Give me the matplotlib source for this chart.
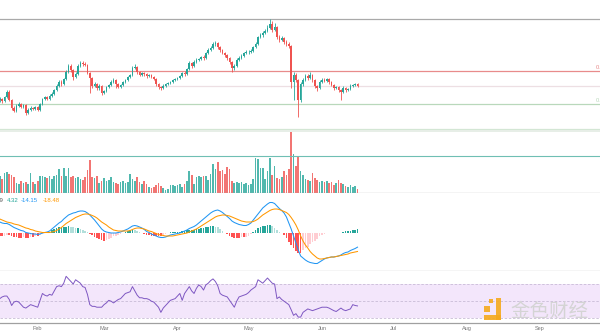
import numpy as np
import pandas as pd
import matplotlib
matplotlib.use("Agg")
import matplotlib.pyplot as plt
from matplotlib.patches import Rectangle

# ---------------------------------------------------------------
# data (daily candles, 2021-01-16 .. 2021-06-16)
# ---------------------------------------------------------------
start_date = "2021-01-16"
first_open = 500

close = [505, 495, 515, 540, 500, 460, 445, 470, 480, 465,
         475, 435, 450, 460, 455, 465, 450, 480, 505, 515,
         505, 520, 530, 550, 570, 590, 580, 605, 640, 670,
         650, 615, 630, 670, 685, 680, 675, 635, 610, 570,
         580, 560, 570, 535, 545, 565, 575, 590, 600, 580,
         565, 575, 590, 600, 615, 625, 660, 665, 640, 625,
         635, 630, 620, 625, 615, 605, 580, 565, 560, 570,
         580, 585, 590, 600, 605, 610, 620, 635, 630, 655,
         685, 670, 690, 700, 705, 715, 710, 735, 750, 760,
         780, 785, 765, 750, 735, 725, 710, 690, 660, 670,
         700, 710, 720, 735, 740, 740, 745, 765, 780, 815,
         825, 835, 845, 860, 880, 850, 865, 815, 800, 810,
         790, 780, 770, 590, 625, 600, 500, 580, 600, 620,
         610, 625, 600, 570, 560, 590, 600, 595, 605, 590,
         575, 560, 565, 550, 540, 560, 550, 555, 570, 575,
         580, 570]

high = [515, 512, 522, 550, 548, 505, 468, 478, 488, 485,
        482, 480, 458, 468, 466, 472, 470, 485, 512, 522,
        520, 528, 538, 556, 578, 598, 600, 612, 648, 678,
        680, 655, 640, 680, 695, 695, 690, 680, 640, 615,
        590, 585, 578, 575, 552, 572, 582, 598, 608, 605,
        585, 582, 596, 606, 622, 632, 670, 680, 670, 645,
        642, 640, 636, 632, 630, 620, 610, 585, 572, 578,
        586, 592, 596, 606, 612, 616, 626, 642, 645, 662,
        695, 690, 698, 708, 712, 722, 725, 742, 758, 770,
        788, 795, 792, 770, 755, 740, 730, 715, 695, 678,
        708, 718, 728, 742, 748, 750, 755, 772, 790, 822,
        835, 845, 855, 875, 905, 895, 885, 870, 825, 820,
        815, 798, 790, 775, 640, 635, 605, 590, 610, 632,
        630, 638, 630, 605, 575, 598, 608, 608, 612, 610,
        595, 580, 572, 570, 555, 568, 565, 562, 578, 582,
        586, 584]

low = [490, 485, 490, 510, 495, 452, 438, 440, 465, 458,
       460, 425, 430, 445, 448, 450, 445, 447, 475, 500,
       498, 500, 515, 525, 545, 565, 572, 575, 600, 635,
       640, 600, 608, 625, 665, 672, 668, 628, 535, 560,
       565, 552, 550, 525, 528, 540, 560, 570, 585, 560,
       558, 560, 570, 585, 595, 610, 620, 655, 632, 618,
       620, 622, 612, 615, 608, 598, 572, 555, 550, 555,
       565, 575, 580, 585, 595, 600, 605, 615, 622, 625,
       650, 662, 665, 685, 695, 700, 702, 705, 730, 745,
       755, 772, 755, 740, 728, 715, 700, 680, 640, 650,
       665, 695, 705, 715, 728, 732, 735, 740, 760, 775,
       808, 815, 828, 840, 855, 840, 845, 805, 790, 795,
       780, 770, 760, 560, 500, 590, 415, 490, 570, 595,
       600, 605, 590, 560, 545, 555, 585, 588, 590, 582,
       568, 552, 555, 540, 500, 535, 542, 545, 550, 565,
       570, 565]

volume = [170, 140, 200, 210, 190, 180, 160, 100, 90, 120,
          100, 110, 90, 200, 110, 90, 120, 170, 170, 160,
          150, 170, 140, 170, 180, 240, 170, 250, 170, 250,
          160, 170, 150, 160, 140, 130, 160, 230, 330, 160,
          150, 170, 100, 120, 150, 120, 130, 160, 110, 100,
          90, 110, 120, 100, 110, 190, 140, 120, 160, 110,
          90, 120, 90, 60, 50, 60, 80, 100, 70, 50,
          30, 40, 80, 80, 70, 80, 90, 60, 90, 120,
          220, 180, 90, 160, 170, 160, 170, 170, 130, 190,
          290, 240, 310, 220, 230, 190, 260, 240, 120, 100,
          110, 100, 110, 90, 100, 80, 90, 140, 350, 340,
          250, 250, 140, 220, 350, 180, 270, 150, 140, 160,
          220, 180, 240, 610, 390, 270, 360, 220, 180, 140,
          130, 120, 200, 150, 130, 110, 120, 110, 120, 100,
          110, 80, 100, 130, 100, 90, 70, 60, 80, 60,
          70, 40]

dif = [11, 10, 9.5, 9.5, 8.5, 7, 5.5, 4.5, 3.5, 2.5,
       2, 0.5, 0, -0.5, -1, -1, -1.5, -1, 0, 0.5,
       1, 2, 4, 6, 8, 10, 11.5, 14, 16, 18,
       19, 20, 20.5, 21.5, 22, 22, 21.5, 20, 18, 15.5,
       13, 10, 7, 4, 2, 1, 0.5, 0, 0, 0,
       0.5, 1, 2, 3, 4, 5.5, 7, 7.5, 7, 6,
       5, 3.5, 1.5, 0.5, -1, -2, -3, -4, -4.5, -4.5,
       -4, -3, -2, -1.5, -1, -0.5, 0, 1, 2, 3,
       4.5, 5.5, 6.5, 8, 10, 12, 14, 16, 18, 20,
       21.5, 22.5, 23, 22, 20.5, 18.5, 16.5, 14.5, 12, 10.5,
       9.5, 8.5, 8, 7.5, 7.5, 8.5, 10, 13, 16, 19,
       22, 25, 27, 29, 30.5, 30.5, 29.5, 27, 24.5, 22.5,
       20, 16, 10, 4, -3, -10, -17, -23, -25, -27,
       -28.5, -29.5, -30, -30.5, -30.5, -29, -27.5, -26, -25, -24.5,
       -24, -24, -23.5, -23, -22, -20.5, -19.5, -19, -17.5, -16.5,
       -15.5, -14.15]

dea = [14, 13, 12, 11, 10.5, 10, 9, 8.5, 8, 7,
       6, 5, 4.5, 3.5, 3, 2, 1.5, 1, 0.5, 0.5,
       0.5, 0.5, 1, 1.5, 2.5, 4, 5.5, 7.5, 9.5, 11,
       12.5, 14, 15.5, 16.5, 17.5, 18.5, 19, 19, 18.5, 17.5,
       16.5, 15, 13, 11, 9.5, 8, 6, 4.5, 3, 2.5,
       2, 2, 2, 2, 2, 2.5, 3.5, 4.5, 5, 5,
       4.5, 4, 3, 2, 1.5, 0.5, -0.5, -1.5, -2, -2.5,
       -3, -3, -3, -3, -2.5, -2, -1.5, -1, -0.5, 0,
       1, 2, 3, 4, 5.5, 7, 8.5, 10, 11.5, 13,
       14.5, 16, 17, 17.5, 18, 18, 17.5, 17, 16, 15,
       14, 13, 12, 11.5, 11, 11, 11, 11.5, 12.5, 14,
       16, 18, 19.5, 21, 22.5, 23.5, 24, 24, 23.5, 22.5,
       21.5, 20.5, 18.5, 15.5, 12, 8, 3, -3, -8, -12,
       -15, -18.5, -21, -23, -25, -26, -26, -25.5, -25, -24.5,
       -24, -24, -23.5, -23, -22.5, -22, -21.5, -21, -20, -19.5,
       -19, -18.48]

rsi = [53, 55, 56, 56, 52, 45, 49, 50, 49, 46,
       43, 42, 44, 46, 45, 44, 43, 51, 59, 57,
       56, 58, 57, 62, 67, 68, 67, 71, 79, 76,
       73, 70, 75, 73, 71, 67, 66, 58, 46, 44,
       44, 43, 43, 43, 46, 48, 51, 50, 48, 50,
       52, 53, 56, 59, 60, 61, 67, 62, 57, 54,
       54, 53, 53, 52, 50, 49, 46, 43, 37, 42,
       45, 48, 51, 52, 53, 56, 59, 51, 59, 63,
       67, 62, 59, 65, 69, 67, 63, 69, 71, 74,
       76, 73, 68, 59, 57, 56, 55, 51, 47, 43,
       50, 55, 56, 57, 58, 60, 63, 65, 67, 75,
       73, 71, 74, 77, 74, 71, 70, 53, 55, 52,
       50, 48, 46, 40, 33.5, 35.5, 31.5, 31.5, 37, 39,
       41, 40, 39, 40, 41, 42, 43, 43, 43, 42,
       40.5, 39, 38, 40, 42, 40, 39, 40, 41, 46,
       45, 44.5]

fib_levels = [905, 645, 570, 480, 355]
fib_names = ["0", "0.382", "0.5", "0.618", "0.786"]
fib_colors = ["#a9a9a9", "#e88b8b", "#eddfe3", "#b9d8bb", "#d3e6d4"]
labelled_fibs = ["0.382", "0.618"]

volume_line = 370
macd_values = ["4.32", "-14.15", "-18.48"]
month_labels = ["Feb", "Mar", "Apr", "May", "Jun", "Jul", "Aug", "Sep"]
month_starts = ["2021-02-01", "2021-03-01", "2021-04-01", "2021-05-01",
                "2021-06-01", "2021-07-01", "2021-08-01", "2021-09-01"]

TEAL = "#26a69a"
RED = "#ef5350"
W, H = 600, 332

close = np.array(close, dtype=float)
high = np.array(high, dtype=float)
low = np.array(low, dtype=float)
opens = np.r_[first_open, close[:-1]]
x = np.arange(len(close))
up = close >= opens
cols = np.where(up, TEAL, RED)

t0 = pd.Timestamp(start_date)
month_pos = [(pd.Timestamp(d) - t0).days for d in month_starts]
xlim = (0.09, 253.36)

fig = plt.figure(figsize=(W / 100, H / 100), dpi=100)
fig.patch.set_facecolor("white")


def panel(top, bottom):
    ax = fig.add_axes([0, 1 - bottom / H, 1, (bottom - top) / H])
    ax.set_xlim(*xlim)
    for s in ax.spines.values():
        s.set_visible(False)
    ax.set_xticks([])
    ax.set_yticks([])
    ax.patch.set_alpha(0)
    return ax


def fx(px):
    return px / W


def fy(py):
    return 1 - py / H


# ---------------- price ----------------
ax_p = panel(0, 130)
ax_p.set_ylim(350, 1000)
for lvl, name, c in zip(fib_levels, fib_names, fib_colors):
    ax_p.axhline(lvl, color=c, lw=0.9, zorder=1)
    if name in labelled_fibs:
        # label sits at the right edge and is mostly cut off, like the source
        ax_p.text(253.36 - 2.0, lvl + 4, name, color=c, fontsize=4.2,
                  family="Liberation Sans", va="bottom", ha="left")
ax_p.vlines(x, low, high, colors=cols, lw=0.6, zorder=2)
body = np.maximum(np.abs(close - opens), 2)
ax_p.bar(x, body, bottom=np.minimum(close, opens), width=0.7, color=cols,
         linewidth=0, zorder=3)

# ---------------- volume ----------------
ax_v = panel(130, 193)
ax_v.set_ylim(0, 630)
ax_v.bar(x, volume, width=0.7, color=cols, alpha=0.8, linewidth=0)
ax_v.axhline(volume_line, color="#6fbfb4", lw=0.8)
ax_v.axhline(625, color="#e3ebe3", lw=1.2)
ax_v.axhline(0, color="#a8a8a8", lw=0.9)

# ---------------- MACD ----------------
ax_m = panel(193, 271)
ax_m.set_ylim(-38, 40)
dif = np.array(dif)
dea = np.array(dea)
hist = dif - dea
prev = np.r_[hist[0], hist[:-1]]
hcols = np.where(hist >= 0,
                 np.where(hist >= prev, TEAL, "#b2dfdb"),
                 np.where(hist <= prev, "#ff5252", "#ffcdd2"))
ax_m.bar(x, hist, width=0.7, color=hcols, linewidth=0)
ax_m.plot(x, dif, color="#2196f3", lw=0.75)
ax_m.plot(x, dea, color="#ff9800", lw=0.75)
ax_m.axhline(-38, color="#b0b0b0", lw=0.9)

txt = dict(fontsize=4.3, family="Liberation Sans", va="center")
fig.text(fx(3.2), fy(201), "MACD 12 26 close 9", color="#555555", ha="right", **txt)
fig.text(fx(6.5), fy(201), macd_values[0], color=TEAL, ha="left", **txt)
fig.text(fx(21), fy(201), macd_values[1], color="#2196f3", ha="left", **txt)
fig.text(fx(43), fy(201), macd_values[2], color="#ff9800", ha="left", **txt)

# ---------------- RSI ----------------
ax_r = panel(271, 323)
ax_r.set_ylim(24.6, 85.2)
ax_r.axhspan(30, 70, color="#f3e6fb", lw=0)
for lv in (70, 50, 30):
    ax_r.axhline(lv, color="#c9bcd6", lw=0.6, ls=(0, (3, 2)))
ax_r.plot(x, rsi, color="#7e57c2", lw=0.7)
ax_r.spines["bottom"].set_visible(True)
ax_r.spines["bottom"].set_color("#a0a0a0")
ax_r.spines["bottom"].set_linewidth(0.9)
ax_r.set_xticks(month_pos)
ax_r.set_xticklabels(month_labels, fontsize=4, color="#777777", family="Liberation Sans")
ax_r.tick_params(axis="x", length=0, pad=2.2)

# ---------------- watermark ----------------
logo = "#f5a91d"
for (lx, ly, lw_, lh) in [(484, 306, 6, 6), (496, 298, 5, 22), (484, 315, 17, 5), (489, 299, 4, 4)]:
    fig.add_artist(Rectangle((fx(lx), fy(ly + lh)), lw_ / W, lh / H,
                             transform=fig.transFigure, color=logo, alpha=0.9, lw=0))
fig.text(fx(549), fy(311), "金色财经", fontsize=14, color="#d4d4d4",
         family=["Noto Sans CJK SC", "DejaVu Sans"], ha="center", va="center")

fig.savefig("out.png", dpi=100)
